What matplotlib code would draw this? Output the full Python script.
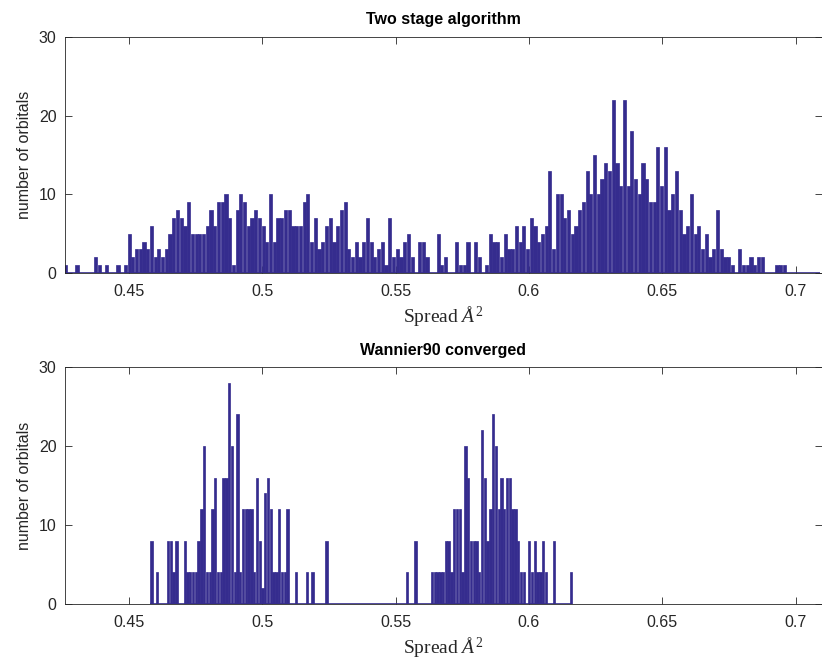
import numpy as np
import matplotlib
matplotlib.use("Agg")
import matplotlib.pyplot as plt

plt.rcParams['font.family'] = ['Liberation Sans', 'DejaVu Sans']
plt.rcParams['mathtext.fontset'] = 'custom'
plt.rcParams['mathtext.rm'] = 'Liberation Serif'
plt.rcParams['mathtext.it'] = 'Liberation Serif:italic'

# ---- data -------------------------------------------------------------
# Two stage algorithm: orbital counts per spread bin
top_range = (0.4256, 0.7091)
top_counts = [
    1, 0, 0, 1, 0, 0, 0, 0, 2, 1, 0, 1, 0, 0, 1, 0, 1, 5, 2, 3,
    3, 4, 3, 6, 2, 3, 2, 3, 5, 7, 8, 7, 6, 9, 5, 5, 5, 5, 6, 8,
    6, 9, 9, 10, 7, 1, 8, 10, 9, 6, 7, 8, 7, 6, 4, 10, 4, 7, 7, 8,
    8, 6, 6, 6, 9, 10, 4, 7, 3, 4, 6, 7, 4, 6, 8, 9, 3, 2, 4, 2,
    4, 7, 4, 2, 3, 4, 1, 7, 2, 3, 2, 4, 5, 2, 0, 4, 4, 2, 0, 0,
    5, 1, 2, 0, 0, 4, 1, 1, 4, 0, 4, 2, 0, 1, 5, 4, 4, 2, 5, 3,
    3, 6, 4, 6, 3, 7, 6, 4, 5, 6, 13, 3, 10, 10, 7, 8, 5, 6, 8, 9,
    13, 10, 15, 10, 12, 14, 13, 22, 14, 11, 22, 11, 18, 12, 10, 14, 12, 9, 9, 16,
    11, 16, 8, 10, 13, 8, 5, 6, 10, 5, 6, 3, 5, 2, 3, 8, 3, 2, 2, 1,
    0, 3, 1, 1, 2, 1, 2, 2, 0, 0, 0, 1, 1, 1, 0, 0, 0, 0, 0, 0,
    0, 0, 0,
]

# Wannier90 converged: orbital counts per spread bin
bottom_start = 0.45787
bottom_binw = 0.001042
bottom_counts = [
    8, 0, 4, 0, 0, 0, 8, 8, 4, 8, 0, 0, 8, 4, 4, 4, 4, 8, 12, 20,
    4, 4, 12, 16, 4, 4, 16, 16, 28, 20, 4, 24, 4, 12, 12, 12, 12, 4, 16, 8,
    2, 14, 16, 12, 4, 4, 12, 4, 4, 12, 0, 0, 4, 0, 0, 0, 4, 0, 4, 0,
    0, 0, 0, 8, 0, 0, 0, 0, 0, 0, 0, 0, 0, 0, 0, 0, 0, 0, 0, 0,
    0, 0, 0, 0, 0, 0, 0, 0, 0, 0, 0, 0, 4, 0, 0, 8, 0, 0, 0, 0,
    0, 4, 4, 4, 4, 4, 8, 8, 4, 12, 12, 12, 4, 20, 16, 8, 8, 8, 4, 22,
    16, 8, 12, 24, 20, 12, 16, 12, 16, 16, 12, 12, 8, 4, 4, 0, 8, 4, 8, 4,
    4, 8, 4, 0, 0, 8, 0, 0, 0, 0, 0, 4,
]

x_ticks = [0.45, 0.5, 0.55, 0.6, 0.65, 0.7]
x_tick_labels = ['0.45', '0.5', '0.55', '0.6', '0.65', '0.7']
y_ticks = [0, 10, 20, 30]
titles = ['Two stage algorithm', 'Wannier90 converged']
xlabel = r'$\mathrm{Spread}\ \mathit{Å}^{2}$'
ylabel = 'number of orbitals'
x_limits = (0.4260, 0.7097)
y_limits = (0, 30)

# ---- drawing ----------------------------------------------------------
bar_color = '#352c8e'
axis_color = '#262626'

fig = plt.figure(figsize=(8.22, 6.60), dpi=100)
ax_top = fig.add_axes([65 / 822, 1 - 273 / 660, 756.5 / 822, 236 / 660])
ax_bot = fig.add_axes([65 / 822, 1 - 604 / 660, 756.5 / 822, 237 / 660])

top_edges = np.linspace(top_range[0], top_range[1], len(top_counts) + 1)
top_w = top_edges[1] - top_edges[0]
top_centers = 0.5 * (top_edges[:-1] + top_edges[1:])

bot_edges = bottom_start + bottom_binw * np.arange(len(bottom_counts) + 1)
bot_centers = 0.5 * (bot_edges[:-1] + bot_edges[1:])

for ax, edges, centers, counts, w, title in [
    (ax_top, top_edges, top_centers, top_counts, top_w, titles[0]),
    (ax_bot, bot_edges, bot_centers, bottom_counts, bottom_binw, titles[1]),
]:
    ax.bar(centers, counts, width=0.85 * w, color=bar_color,
           edgecolor=bar_color, linewidth=0.5, align='center', zorder=2)
    # baseline of the histogram across its bin range
    ax.hlines(0, edges[0], edges[-1], color=bar_color, linewidth=1.2,
              zorder=2, clip_on=True)
    ax.set_xlim(*x_limits)
    ax.set_ylim(*y_limits)
    ax.set_xticks(x_ticks)
    ax.set_xticklabels(x_tick_labels)
    ax.set_yticks(y_ticks)
    ax.tick_params(direction='in', length=5, width=0.6, colors=axis_color,
                   labelsize=11.5, top=True, right=True, pad=6)
    ax.tick_params(axis='x', pad=8)
    for sp in ax.spines.values():
        sp.set_color(axis_color)
        sp.set_linewidth(0.6)
        sp.set_zorder(3)
    ax.set_title(title, fontsize=11.5, fontweight='bold', pad=9, color='black')
    ax.set_xlabel(xlabel, fontsize=14, color=axis_color, labelpad=4)
    ax.set_ylabel(ylabel, fontsize=11.5, color=axis_color, labelpad=5)

fig.savefig('out.png', dpi=100)
